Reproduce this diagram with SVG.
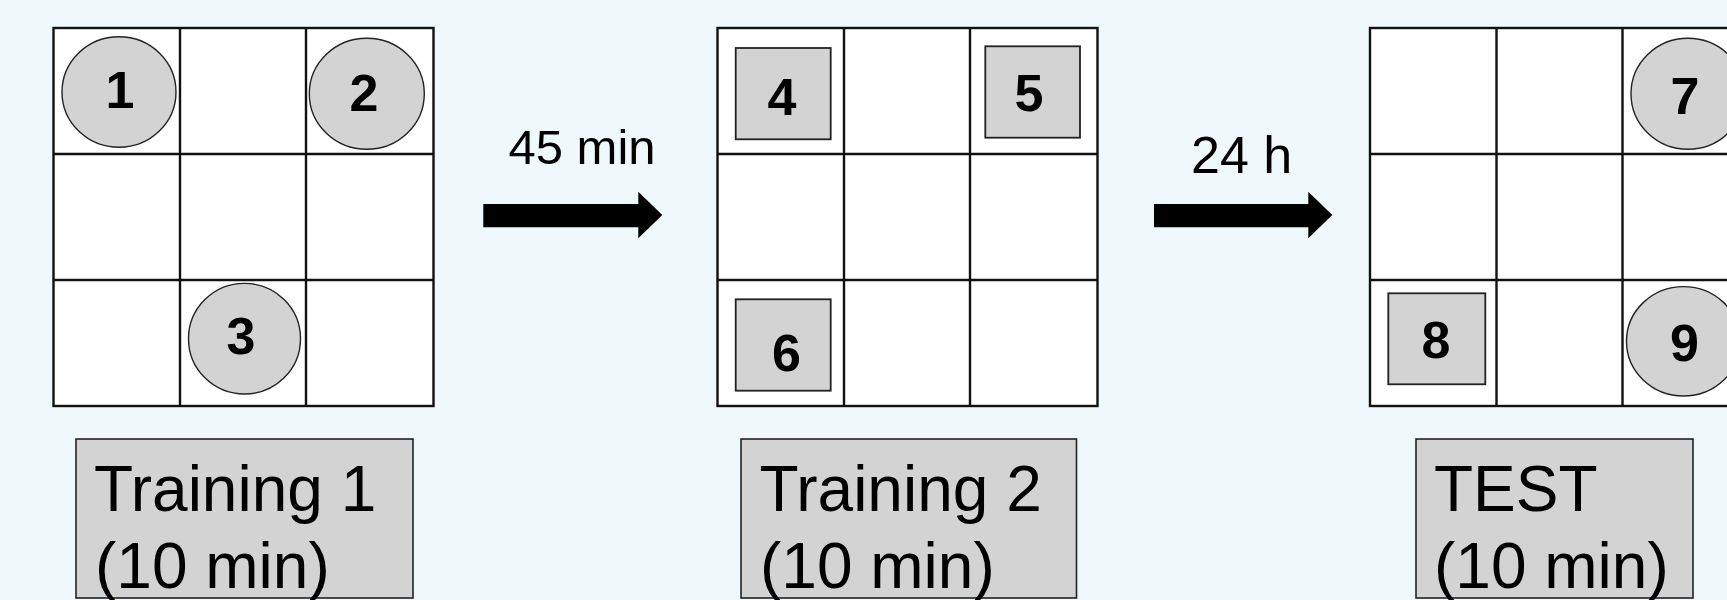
<svg xmlns="http://www.w3.org/2000/svg" xmlns:xlink="http://www.w3.org/1999/xlink" width="1727" height="600" viewBox="0 0 1727 600">
  <style>
    .grid-bg { fill: #ffffff; stroke: #111111; stroke-width: 2.4; }
    .grid-line { stroke: #111111; stroke-width: 2.4; fill: none; }
    .disc { fill: #d3d3d3; stroke: #222222; stroke-width: 1.4; }
    .tile { fill: #d3d3d3; stroke: #222222; stroke-width: 1.8; }
    .num { font-family: "Liberation Sans", Arial, sans-serif; font-weight: bold; font-size: 52px; fill: #000000; text-anchor: middle; }
    .lbl-box { fill: #d3d3d3; stroke: #222222; stroke-width: 1.6; }
    .lbl { font-family: "Liberation Sans", Arial, sans-serif; font-size: 64px; fill: #000000; }
    .delay { font-family: "Liberation Sans", Arial, sans-serif; fill: #000000; text-anchor: middle; }
    .arrow { fill: #000000; }
  </style>
  <defs>
    <g id="grid3x3">
      <rect class="grid-bg" x="0" y="0" width="380" height="378"/>
      <path class="grid-line" d="M126.5,0 V378 M252.5,0 V378 M0,126 H380 M0,252 H380"/>
    </g>
  </defs>

  <rect x="0" y="0" width="1727" height="600" fill="#eff8fb"/>

  <!-- Training 1 -->
  <g id="grid-training1">
    <use xlink:href="#grid3x3" href="#grid3x3" transform="translate(53.5,28)"/>
  </g>
  <g id="object-1">
    <ellipse class="disc" cx="119" cy="92" rx="57" ry="55.3"/>
    <text class="num" x="120" y="107.5">1</text>
  </g>
  <g id="object-2">
    <ellipse class="disc" cx="366.8" cy="93.8" rx="57.5" ry="55.5"/>
    <text class="num" x="364" y="110.5">2</text>
  </g>
  <g id="object-3">
    <ellipse class="disc" cx="244.5" cy="338.7" rx="56" ry="55.3"/>
    <text class="num" x="241" y="354">3</text>
  </g>
  <g id="label-training1">
    <rect class="lbl-box" x="76" y="439" width="337" height="159"/>
    <text class="lbl" x="94" y="511">Training 1</text>
    <text class="lbl" x="95" y="588">(10 min)</text>
  </g>

  <!-- Training 2 -->
  <g id="grid-training2">
    <use xlink:href="#grid3x3" href="#grid3x3" transform="translate(717.5,28)"/>
  </g>
  <g id="object-4">
    <rect class="tile" x="735.7" y="48" width="95" height="91.3"/>
    <text class="num" x="782" y="115">4</text>
  </g>
  <g id="object-5">
    <rect class="tile" x="985.3" y="46.3" width="94.7" height="91.4"/>
    <text class="num" x="1029" y="111">5</text>
  </g>
  <g id="object-6">
    <rect class="tile" x="735.7" y="299.3" width="95" height="91.4"/>
    <text class="num" x="786.5" y="370.5">6</text>
  </g>
  <g id="label-training2">
    <rect class="lbl-box" x="741" y="439" width="335.5" height="159"/>
    <text class="lbl" x="759.5" y="511">Training 2</text>
    <text class="lbl" x="760" y="588">(10 min)</text>
  </g>

  <!-- Test -->
  <g id="grid-test">
    <use xlink:href="#grid3x3" href="#grid3x3" transform="translate(1370,28)"/>
  </g>
  <g id="object-7">
    <ellipse class="disc" cx="1688" cy="93.8" rx="57" ry="55.5"/>
    <text class="num" x="1685" y="114.3">7</text>
  </g>
  <g id="object-8">
    <rect class="tile" x="1388.3" y="293.3" width="97" height="91"/>
    <text class="num" x="1436" y="357.5">8</text>
  </g>
  <g id="object-9">
    <ellipse class="disc" cx="1683.5" cy="341.3" rx="57" ry="54.7"/>
    <text class="num" x="1684.5" y="361">9</text>
  </g>
  <g id="label-test">
    <rect class="lbl-box" x="1416" y="439" width="277" height="159"/>
    <text class="lbl" x="1434" y="511">TEST</text>
    <text class="lbl" x="1434" y="588">(10 min)</text>
  </g>

  <!-- Connectors -->
  <g id="connectors">
    <g id="arrow-45min">
      <path class="arrow" d="M483.3,204 H638.3 V191.7 L662.3,215 L638.3,238.3 V227.3 H483.3 Z"/>
      <text class="delay" x="582" y="163.5" font-size="49">45 min</text>
    </g>
    <g id="arrow-24h">
      <path class="arrow" d="M1154,204 H1308.3 V191.7 L1332.3,215 L1308.3,238.3 V227.3 H1154 Z"/>
      <text class="delay" x="1241.7" y="172.7" font-size="52">24 h</text>
    </g>
  </g>
</svg>
